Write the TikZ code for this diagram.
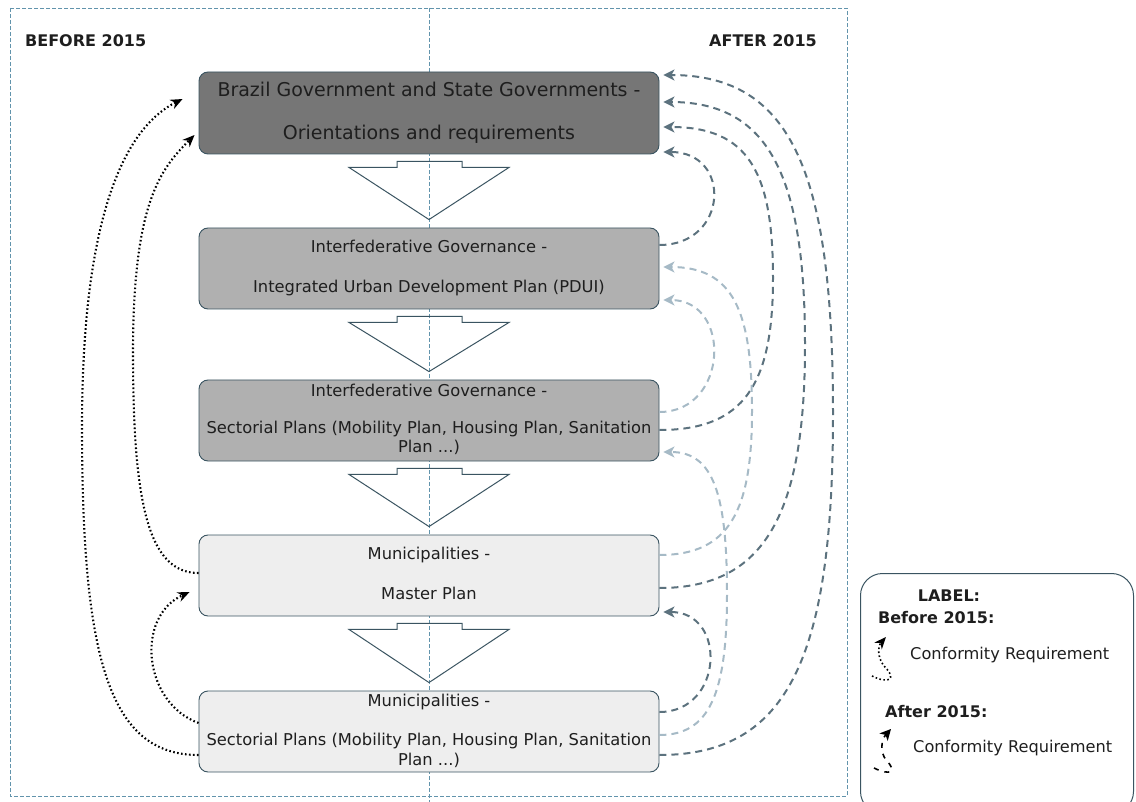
\documentclass[tikz,border=0pt]{standalone}
\usepackage{fontspec}
\setmainfont{DejaVu Sans}
\usetikzlibrary{arrows.meta,calc}
\definecolor{govgray}{RGB}{118,118,118}
\definecolor{midgray}{RGB}{176,176,176}
\definecolor{lightfill}{RGB}{238,238,238}
\definecolor{edgeteal}{RGB}{58,84,97}
\definecolor{textgray}{RGB}{30,30,30}
\definecolor{reqdark}{RGB}{92,114,126}
\definecolor{reqlight}{RGB}{166,186,198}
\definecolor{frameblue}{RGB}{98,148,172}
\begin{document}
\begin{tikzpicture}[x=1pt,y=-1pt,
  planbox/.style={draw=edgeteal,line width=0.9pt,rounded corners=9pt,minimum width=460pt,
    minimum height=81pt,inner sep=0pt,align=center,text=textgray,font=\fontsize{16.3}{20}\selectfont},
  head/.style={inner sep=0pt,text=textgray,font=\bfseries\fontsize{16}{20}\selectfont},
  legtext/.style={inner sep=0pt,text=textgray,font=\fontsize{16.2}{20}\selectfont},
  frameline/.style={draw=frameblue,line width=0.8pt,dash pattern=on 4pt off 2pt},
  flowarrow/.style={draw=edgeteal,line width=1pt},
  oldreq/.style={draw=black,line width=2.1pt,dash pattern=on 1.6pt off 2.4pt,-{Stealth[length=12pt,width=10pt]}},
  newreq/.style={draw=reqdark,line width=2pt,dash pattern=on 7pt off 5pt,-{Stealth[length=11pt,width=11pt,inset=3pt]}},
  newreqlight/.style={newreq,draw=reqlight}]
\useasboundingbox (0,0) rectangle (1136,802);
% frame and middle line
\draw[frameline] (10,8) rectangle (847,796);
\draw[frameline] (429,8) -- (429,802);
\node[head,anchor=west] (before) at (25,41) {BEFORE 2015};
\node[head,anchor=east] (after) at (817,41) {AFTER 2015};
% plans
\node[planbox,fill=govgray,minimum height=82pt,font=\fontsize{19}{23}\selectfont] (gov) at (429,113)
  {\strut Brazil Government and State Governments -\\[20pt]Orientations and requirements\strut};
\node[planbox,fill=midgray] (pdui) at (429,268.5)
  {\strut Interfederative Governance -\\[20pt]Integrated Urban Development Plan (PDUI)\strut};
\node[planbox,fill=midgray] (sect) at (429,420.5)
  {\strut Interfederative Governance -\\[17pt]Sectorial Plans (Mobility Plan, Housing Plan, Sanitation\\Plan ...)\strut};
\node[planbox,fill=lightfill] (master) at (429,575.5)
  {\strut Municipalities -\\[20pt]Master Plan\strut};
\node[planbox,fill=lightfill] (msect) at (429,731.5)
  {\strut Municipalities -\\[19pt]Sectorial Plans (Mobility Plan, Housing Plan, Sanitation\\Plan ...)\strut};
\foreach \a/\b in {gov/pdui,pdui/sect,sect/master,master/msect}
  \draw[flowarrow] ($(\a.south)+(-80,13)$) -- ++(48,0) -- ++(0,-6) -- ++(65,0) -- ++(0,6) -- ++(47,0)
    -- ($(\b.north)+(0,-8)$) -- cycle;
% before 2015
\draw[oldreq] ([yshift=2.5pt]master.west) .. controls +(-50,0) and +(0,150) .. (133,354)
  .. controls +(0,-150) and +(-35,35) .. ([xshift=-4pt,yshift=-22pt]gov.west);
\draw[oldreq] ([yshift=-23.5pt]msect.west) .. controls +(-90,0) and +(0,230) .. (82,427)
  .. controls +(0,-230) and +(-50,25) .. ([xshift=-16pt,yshift=14pt]gov.west);
\draw[oldreq] ([yshift=8.5pt]msect.west) .. controls +(-55,-20) and +(-55,25) .. ([xshift=-9pt,yshift=-16.5pt]master.west);
% after 2015
\draw[newreq] ([yshift=23.5pt]pdui.east) .. controls +(69,0) and +(69,0) .. ([xshift=4pt,yshift=-39pt]gov.east);
\draw[newreq] ([yshift=-9.5pt]sect.east) .. controls +(85,0) and +(0,106) .. (773,278)
  .. controls +(0,-106) and +(85,0) .. ([xshift=4pt,yshift=-14pt]gov.east);
\draw[newreq] ([yshift=-12.5pt]master.east) .. controls +(105,0) and +(0,170) .. (805,345)
  .. controls +(0,-170) and +(105,0) .. ([xshift=4pt,yshift=11pt]gov.east);
\draw[newreq] ([yshift=-23.5pt]msect.east) .. controls +(130,0) and +(0,240) .. (833,415)
  .. controls +(0,-240) and +(130,0) .. ([xshift=4pt,yshift=38pt]gov.east);
\draw[newreq] ([yshift=19.5pt]msect.east) .. controls +(64,0) and +(64,0) .. ([xshift=4pt,yshift=-36.5pt]master.east);
\draw[newreqlight] ([yshift=8.5pt]sect.east) .. controls +(69,0) and +(69,0) .. ([xshift=4pt,yshift=-31.5pt]pdui.east);
\draw[newreqlight] ([yshift=20.5pt]master.east) .. controls +(70,0) and +(0,100) .. (752,411)
  .. controls +(0,-100) and +(70,0) .. ([xshift=4pt,yshift=1.5pt]pdui.east);
\draw[newreqlight] ([yshift=-3.5pt]msect.east) .. controls +(50,0) and +(0,100) .. (727,594)
  .. controls +(0,-100) and +(50,0) .. ([xshift=4pt,yshift=-31.5pt]sect.east);
% legend
\node[draw=edgeteal,line width=1pt,rounded corners=22pt,minimum width=273pt,minimum height=240pt,
  anchor=north west] (legend) at (860,573) {};
\node[head] (lbl) at (949,596) {LABEL:};
\node[head,anchor=west] (lold) at (878,618) {Before 2015:};
\node[legtext,anchor=west] (loldtxt) at (910,655) {Conformity Requirement};
\node[head,anchor=west] (lnew) at (885,712) {After 2015:};
\node[legtext,anchor=west] (lnewtxt) at (913,748) {Conformity Requirement};
\draw[oldreq,line width=1.6pt] (872,676) .. controls (888,684) and (898,680) .. (884,666)
  .. controls (877,657) and (878,646) .. (886,637);
\draw[newreq,draw=black,line width=1.6pt,dash pattern=on 5pt off 6pt] (874,768) .. controls (890,776) and (898,772) .. (886,760)
  .. controls (880,752) and (881,740) .. (891,729);
\end{tikzpicture}
\end{document}
